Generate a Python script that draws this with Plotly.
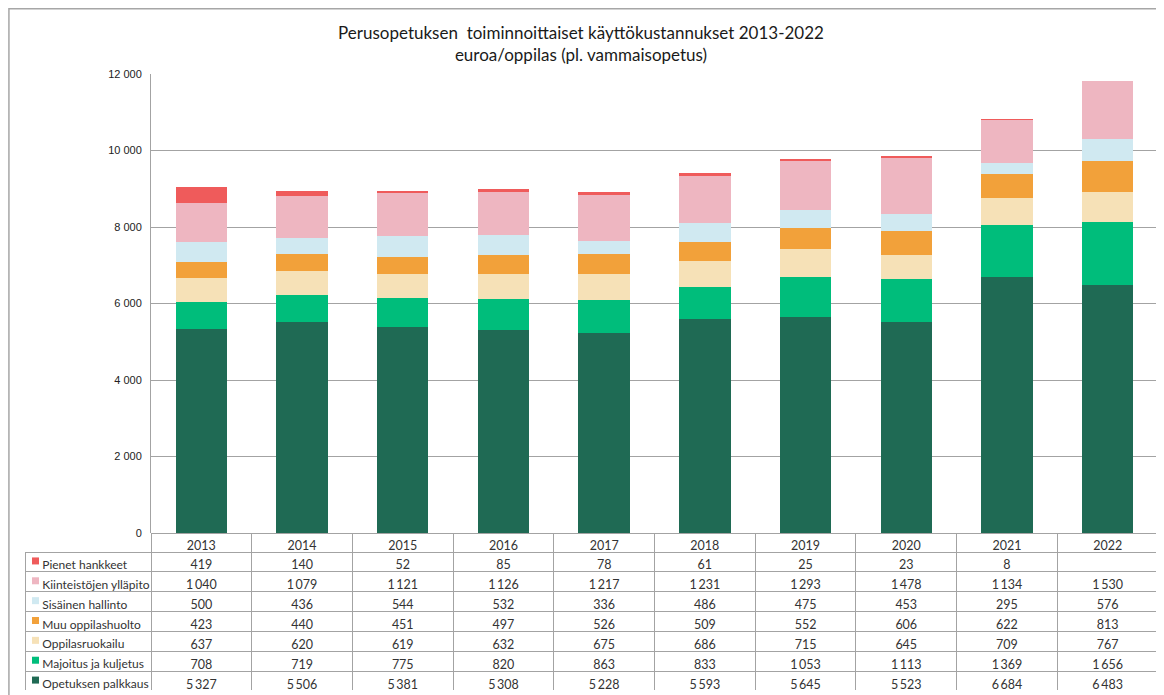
import plotly.graph_objects as go

years = ["2013", "2014", "2015", "2016", "2017", "2018", "2019", "2020", "2021", "2022"]

opetuksen_palkkaus = [5327, 5506, 5381, 5308, 5228, 5593, 5645, 5523, 6684, 6483]
majoitus_ja_kuljetus = [708, 719, 775, 820, 863, 833, 1053, 1113, 1369, 1656]
oppilasruokailu = [637, 620, 619, 632, 675, 686, 715, 645, 709, 767]
muu_oppilashuolto = [423, 440, 451, 497, 526, 509, 552, 606, 622, 813]
sisainen_hallinto = [500, 436, 544, 532, 336, 486, 475, 453, 295, 576]
kiinteistojen_yllapito = [1040, 1079, 1121, 1126, 1217, 1231, 1293, 1478, 1134, 1530]
pienet_hankkeet = [419, 140, 52, 85, 78, 61, 25, 23, 8, None]

y_tick_vals = [0, 2000, 4000, 6000, 8000, 10000, 12000]
y_tick_text = ["0", "2 000", "4 000", "6 000", "8 000", "10 000", "12 000"]

# stacking order: bottom -> top
series = [
    ("Opetuksen palkkaus", opetuksen_palkkaus, "#1F6A54"),
    ("Majoitus ja kuljetus", majoitus_ja_kuljetus, "#00BD7B"),
    ("Oppilasruokailu", oppilasruokailu, "#F6E1B7"),
    ("Muu oppilashuolto", muu_oppilashuolto, "#F2A13A"),
    ("Sisäinen hallinto", sisainen_hallinto, "#D0E9F1"),
    ("Kiinteistöjen ylläpito", kiinteistojen_yllapito, "#EEB6C1"),
    ("Pienet hankkeet", pienet_hankkeet, "#EF5B5B"),
]

OFF = 8                      # page body margin
W, H = 1164 - OFF, 695 - OFF
PL, PR, PT, PB = 151, 1158, 74, 533   # plot area (reference pixels)
TL, TB = 25, 691                       # table left/bottom
HDR = 19                               # table header height


def px(x):
    return (x - OFF) / W


def py(y):
    return 1 - (y - OFF) / H


fig = go.Figure()
for name, vals, col in series:
    fig.add_trace(go.Bar(
        x=years, y=vals, name=name, marker=dict(color=col, line=dict(width=0)),
        showlegend=False, xaxis="x", yaxis="y",
    ))


def fmt(v):
    if v is None:
        return ""
    return f"{v:,}".replace(",", "\u2009")


rows = list(reversed(series))
NB = "\u00a0"
label_col = [NB * 3 + n.replace(" ", NB) for n, _, _ in rows]
cols = [label_col]
for i in range(len(years)):
    cols.append([fmt(vals[i]) for _, vals, _ in rows])

grid = "#A3A3A3"
first_w = PL - TL
col_w = (PR - PL) / len(years)
n_rows = len(rows)
row_h = (TB - PB - HDR) / n_rows
ff = "Lato, Carlito, sans-serif"

# legend swatches inside the first table column (hidden helper axes)
fig.add_trace(go.Scatter(
    x=[10.5] * n_rows, y=[i + 0.45 for i in range(n_rows)],
    mode="markers", xaxis="x2", yaxis="y2", showlegend=False, hoverinfo="skip",
    marker=dict(symbol="square", size=7, color=[c for _, _, c in rows], line=dict(width=0)),
))

fig.add_trace(go.Table(
    domain=dict(x=[px(TL), px(PR)], y=[py(TB), py(PB)]),
    columnwidth=[first_w] + [col_w] * len(years),
    header=dict(
        values=[""] + years,
        align="center",
        height=HDR,
        fill=dict(color="rgba(0,0,0,0)"),
        line=dict(color=["rgba(0,0,0,0)"] + [grid] * len(years), width=1),
        font=dict(family=ff, size=12.5, color="#333333"),
    ),
    cells=dict(
        values=cols,
        align=["left"] + ["center"] * len(years),
        height=row_h,
        fill=dict(color="rgba(0,0,0,0)"),
        line=dict(color=grid, width=1),
        font=dict(family=ff, size=[12] + [12.5] * len(years), color="#333333"),
    ),
))

fig.update_layout(
    width=W, height=H,
    margin=dict(l=0, r=0, t=0, b=0, autoexpand=False),
    barmode="stack",
    bargap=0.49,
    plot_bgcolor="white",
    paper_bgcolor="white",
    title=dict(
        text="Perusopetuksen  toiminnoittaiset käyttökustannukset 2013-2022<br>euroa/oppilas (pl. vammaisopetus)",
        x=px(581), xanchor="center", y=py(39), yanchor="middle",
        font=dict(family=ff, size=17, color="#1a1a1a"),
    ),
    xaxis=dict(
        domain=[px(PL), px(PR)], showticklabels=False, showgrid=False,
        showline=False, zeroline=False, ticks="", automargin=False,
    ),
    yaxis=dict(
        domain=[py(PB), py(PT)], range=[0, 12000],
        tickvals=y_tick_vals, ticktext=y_tick_text,
        showgrid=True, gridcolor=grid, gridwidth=1,
        showline=True, linecolor=grid, linewidth=1,
        zeroline=False, ticks="", ticklabelstandoff=6, automargin=False,
        tickfont=dict(family="Liberation Sans, Arial, sans-serif", size=11, color="#222222"),
    ),
    xaxis2=dict(
        domain=[px(TL), px(PL)], range=[0, first_w], visible=False,
        fixedrange=True, automargin=False,
    ),
    yaxis2=dict(
        domain=[py(TB), py(PB + HDR)], range=[n_rows, 0], visible=False,
        fixedrange=True, automargin=False, anchor="x2",
    ),
    shapes=[dict(
        type="rect", xref="paper", yref="paper",
        x0=0.0008, x1=1.01, y0=-0.01, y1=0.999,
        line=dict(color="#A6A6A6", width=1.5), fillcolor="rgba(0,0,0,0)", layer="below",
    )],
)

fig.write_html("out.html")
